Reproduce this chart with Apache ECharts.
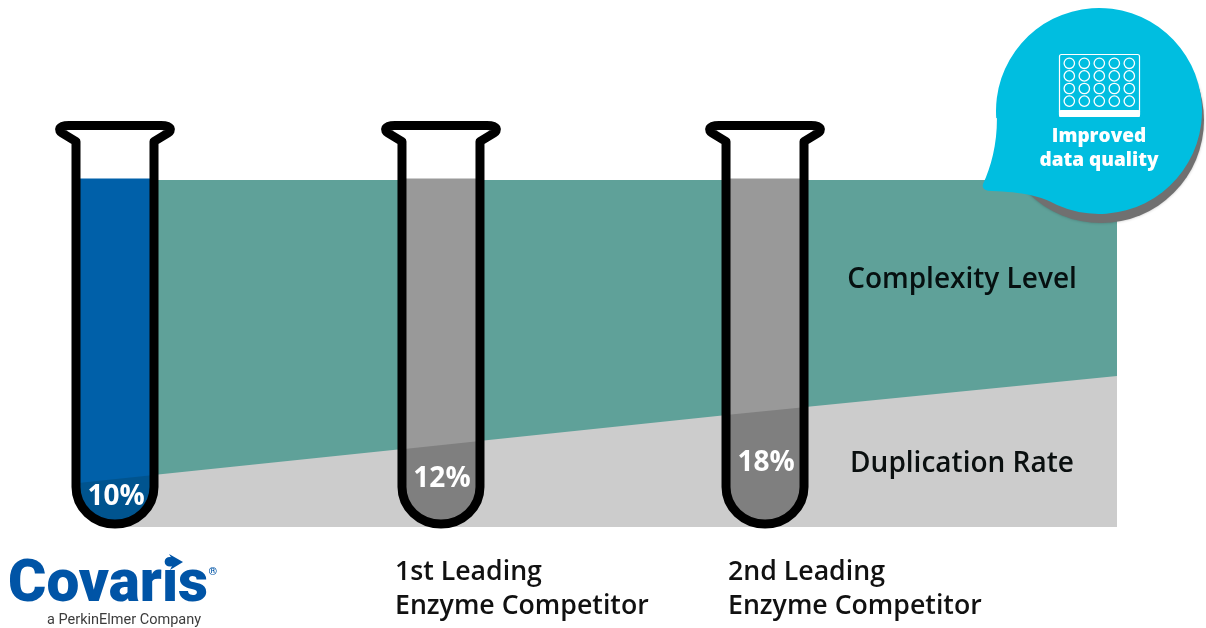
<!DOCTYPE html>
<html>
<head>
<meta charset="utf-8">
<script src="https://cdn.jsdelivr.net/npm/echarts@6/dist/echarts.min.js"></script>
<style>html,body{margin:0;padding:0;background:#fff}#c{width:1206px;height:628px}</style>
</head>
<body>
<div id="c"></div>
<script>
// ---- data ----
const tubeNames = ['Covaris', '1st Leading Enzyme Competitor', '2nd Leading Enzyme Competitor'];
const tubePositions = [0, 1.003, 2];
const tubeLabels = ['10%', '12%', '18%'];
const tubeLabelLevels = [9.2, 14.4, 19.0];
const tubeFillLevel = 100.4;
const bandPositions = [0, 1.003, 2, 3.083];
const complexityTop = [100, 100, 100, 100];
const duplicationBand = [13.8, 23.6, 33.4, 43.5];
const captionLines = [['1st Leading', 'Enzyme Competitor'], ['2nd Leading', 'Enzyme Competitor']];
const bandLabels = ['Complexity Level', 'Duplication Rate'];
const calloutLines = ['Improved', 'data quality'];
const plateRows = 4, plateCols = 5;

const fontMain = '"Open Sans", sans-serif';

function bandLevelAt(x) {
  for (let i = 0; i < bandPositions.length - 1; i++) {
    if (x <= bandPositions[i + 1]) {
      const a = bandPositions[i], b = bandPositions[i + 1];
      const t = (x - a) / (b - a);
      return duplicationBand[i] + t * (duplicationBand[i + 1] - duplicationBand[i]);
    }
  }
  return duplicationBand[duplicationBand.length - 1];
}

const K = 0.5523;
// U-shaped region between the tube walls
echarts.graphic.registerShape('tubeFill', echarts.graphic.extendShape({
  shape: { cx: 0, yl: 0, yr: 0, hw: 39, bend: 0, bottom: 0 },
  buildPath(ctx, s) {
    const ry = s.bottom - s.bend;
    ctx.moveTo(s.cx - s.hw, s.yl);
    ctx.lineTo(s.cx - s.hw, s.bend);
    ctx.bezierCurveTo(s.cx - s.hw, s.bend + K * ry, s.cx - K * s.hw, s.bottom, s.cx, s.bottom);
    ctx.bezierCurveTo(s.cx + K * s.hw, s.bottom, s.cx + s.hw, s.bend + K * ry, s.cx + s.hw, s.bend);
    ctx.lineTo(s.cx + s.hw, s.yr);
    ctx.closePath();
  }
}));
// glass outline with flared rim
echarts.graphic.registerShape('tubeOutline', echarts.graphic.extendShape({
  shape: { cx: 0, base: 0 },
  buildPath(ctx, s) {
    const c = s.cx, b = s.base, hw = 39, bend = b - 40, bottom = b - 3, top = b - 401.5, neck = b - 385.5;
    const ry = bottom - bend;
    ctx.moveTo(c - hw, bend);
    ctx.lineTo(c - hw, neck);
    ctx.lineTo(c - 53, b - 394);
    ctx.bezierCurveTo(c - 57, b - 396.5, c - 57, top, c - 46, top);
    ctx.lineTo(c + 46, top);
    ctx.bezierCurveTo(c + 57, top, c + 57, b - 396.5, c + 53, b - 394);
    ctx.lineTo(c + hw, neck);
    ctx.lineTo(c + hw, bend);
    ctx.bezierCurveTo(c + hw, bend + K * ry, c + K * hw, bottom, c, bottom);
    ctx.bezierCurveTo(c - K * hw, bottom, c - hw, bend + K * ry, c - hw, bend);
  }
}));
// speech bubble
echarts.graphic.registerShape('callout', echarts.graphic.extendShape({
  shape: {},
  buildPath(ctx) {
    const d = Math.PI / 180;
    ctx.moveTo(997, 118);
    ctx.arc(1099, 111, 103, 176 * d, 474 * d, false);
    ctx.bezierCurveTo(1042, 196, 1022, 192, 992, 191);
    ctx.quadraticCurveTo(981, 191, 983, 184);
    ctx.bezierCurveTo(991, 167, 997, 145, 997, 118);
    ctx.closePath();
  }
}));

const tubeData = tubePositions.map((x, i) => [x, tubeFillLevel, tubeLabelLevels[i], tubeLabels[i], i]);

function renderTube(params, api) {
  const x = api.value(0);
  const idx = api.value(4);
  const topPt = api.coord([x, api.value(1)]);
  const base = api.coord([x, 0])[1];
  const cx = topPt[0];
  const hw = 39;
  const dx = hw / api.size([1, 0])[0];
  const yC = api.coord([x, bandLevelAt(x)])[1];
  const yR = api.coord([x + dx, bandLevelAt(x + dx)])[1];
  const yL = yC + (yC - yR); // the boundary runs straight across the tube
  const upper = idx === 0 ? '#0060a9' : '#999999';
  const lower = idx === 0 ? '#00548f' : '#7f7f7f';
  const geom = { cx, hw, bend: base - 40, bottom: base - 3 };
  const lab = api.coord([x, api.value(2)]);
  return {
    type: 'group',
    children: [
      { type: 'tubeFill', shape: Object.assign({ yl: topPt[1], yr: topPt[1] }, geom), style: { fill: upper } },
      { type: 'tubeFill', shape: Object.assign({ yl: yL, yr: yR }, geom), style: { fill: lower } },
      { type: 'tubeOutline', shape: { cx, base }, style: { fill: null, stroke: '#000', lineWidth: 9, lineJoin: 'round', lineCap: 'round' } },
      { type: 'text', style: { x: lab[0] + 1, y: lab[1] + 2, text: api.value(3), fill: '#fff', fontFamily: fontMain, fontWeight: 700, fontSize: 28, align: 'center', verticalAlign: 'middle' } }
    ]
  };
}

const graphics = [];
function addText(text, x, y, size, weight, fill, align, family) {
  graphics.push({ type: 'text', z: 20, style: { text, x, y, fontSize: size, fontWeight: weight, fill, fontFamily: family || fontMain, align: align || 'left', verticalAlign: 'middle' } });
}
// band names
addText(bandLabels[0], 962, 280, 28, 600, '#061010', 'center');
addText(bandLabels[1], 962, 464, 28, 600, '#0a0f0f', 'center');
// captions
captionLines.forEach((lines, i) => {
  const x = [395, 728][i];
  addText(lines[0], x, 572, 26.7, 600, '#111');
  addText(lines[1], x, 606, 26.7, 600, '#111');
});
// callout
graphics.push({ type: 'circle', z: 10, shape: { cx: 1101, cy: 120, r: 103 }, style: { fill: '#707070', shadowBlur: 3, shadowColor: 'rgba(0,0,0,0.25)' } });
graphics.push({ type: 'callout', z: 11, style: { fill: '#00bee0' } });
graphics.push({ type: 'rect', z: 12, shape: { x: 1059.5, y: 54.5, width: 80, height: 62, r: 2 }, style: { fill: null, stroke: '#fff', lineWidth: 1.2 } });
graphics.push({ type: 'rect', z: 12, shape: { x: 1059, y: 110, width: 81, height: 7, r: 1.5 }, style: { fill: '#fff' } });
for (let r = 0; r < plateRows; r++) {
  for (let c = 0; c < plateCols; c++) {
    graphics.push({ type: 'circle', z: 12, shape: { cx: 1069.3 + c * 15, cy: 63.3 + r * 12.6, r: 5.2 }, style: { fill: null, stroke: '#fff', lineWidth: 1.3 } });
  }
}
addText(calloutLines[0], 1099, 137, 19, 800, '#fff', 'center');
addText(calloutLines[1], 1099, 161, 19, 800, '#fff', 'center');
// logo
addText(tubeNames[0], 8, 586, 58.5, 900, '#0054a6', 'left', 'Roboto, sans-serif');
graphics.push({ type: 'polygon', z: 21, shape: { points: [[169, 554], [183, 562], [170, 570], [174, 562]] }, style: { fill: '#0054a6' } });
addText('®', 208.5, 572, 11, 700, '#0054a6', 'left', 'Roboto, sans-serif');
addText('a PerkinElmer Company', 47, 620, 14.5, 400, '#3c3c3c', 'left', 'Roboto, sans-serif');

const chart = echarts.init(document.getElementById('c'), null, { renderer: 'canvas' });
chart.setOption({
  animation: false,
  backgroundColor: '#fff',
  grid: { left: 115, top: 180, width: 1002, height: 347, containLabel: false },
  xAxis: { type: 'value', min: 0, max: 3.083, show: false },
  yAxis: { type: 'value', min: 0, max: 100, show: false },
  graphic: graphics,
  series: [
    {
      name: bandLabels[0], type: 'line', symbol: 'none', z: 1,
      data: bandPositions.map((x, i) => [x, complexityTop[i]]),
      lineStyle: { width: 0 }, areaStyle: { color: '#5fa199', opacity: 1 }
    },
    {
      name: bandLabels[1], type: 'line', symbol: 'none', z: 2,
      data: bandPositions.map((x, i) => [x, duplicationBand[i]]),
      lineStyle: { width: 0 }, areaStyle: { color: '#cccccc', opacity: 1 }
    },
    {
      name: 'Tubes', type: 'custom', z: 5, clip: false,
      encode: { x: 0, y: 1 },
      data: tubeData,
      renderItem: renderTube
    }
  ]
});
</script>
</body>
</html>
